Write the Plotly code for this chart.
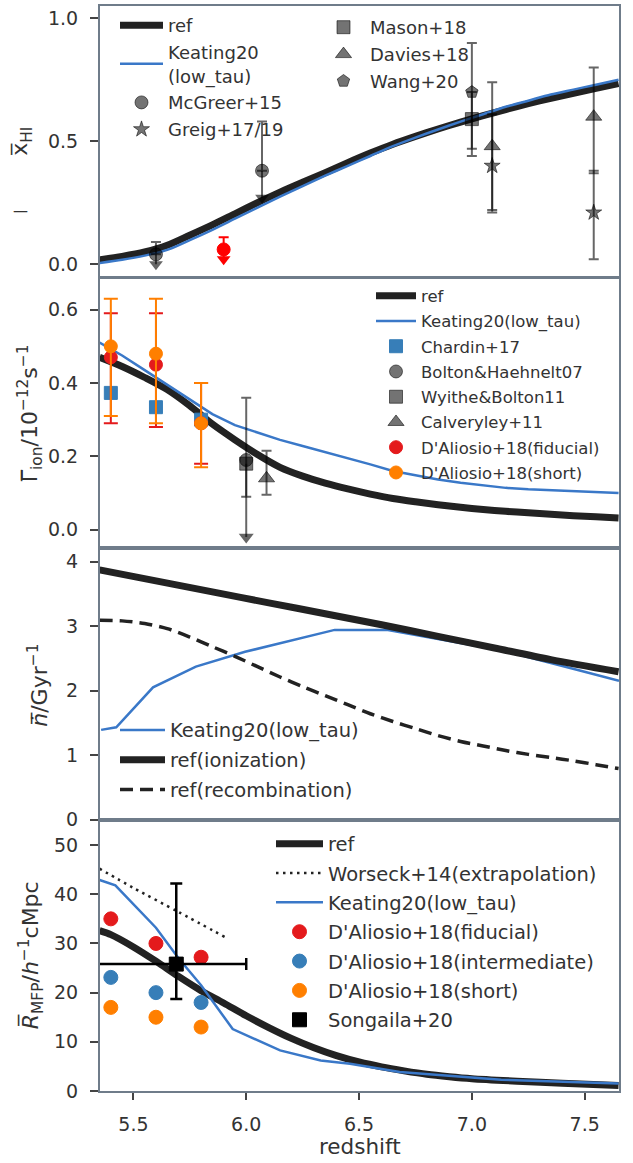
import plotly.graph_objects as go

# ---------------- data ----------------
# panel 1: neutral fraction
z_xhi = [5.35, 5.45, 5.55, 5.65, 5.75, 5.85, 5.95, 6.05, 6.15, 6.25, 6.35, 6.45,
         6.55, 6.65, 6.75, 6.85, 6.95, 7.05, 7.15, 7.25, 7.35, 7.45, 7.55, 7.65]
ref_xhi = [0.018, 0.032, 0.05, 0.077, 0.118, 0.16, 0.205, 0.25, 0.293, 0.333, 0.372, 0.413,
           0.452, 0.488, 0.52, 0.55, 0.578, 0.604, 0.629, 0.653, 0.675, 0.695, 0.715, 0.735]
keat_xhi = [0.005, 0.018, 0.035, 0.058, 0.098, 0.14, 0.185, 0.23, 0.275, 0.318, 0.36, 0.40,
            0.44, 0.48, 0.515, 0.548, 0.58, 0.61, 0.64, 0.665, 0.69, 0.71, 0.73, 0.75]

mcgreer_z = [5.6, 6.07]
mcgreer_v = [0.04, 0.38]
mcgreer_up = [0.05, 0.20]
mcgreer_lim = [0.0, 0.27]
red_z = [5.9]
red_v = [0.06]
red_up = [0.05]
red_lim = [0.02]
greig_z = [7.09, 7.54]
greig_v = [0.40, 0.21]
greig_up = [0.21, 0.17]
greig_dn = [0.19, 0.19]
mason_z = [7.0]
mason_v = [0.59]
mason_up = [0.11]
mason_dn = [0.15]
davies_z = [7.09, 7.54]
davies_v = [0.48, 0.60]
davies_up = [0.26, 0.20]
davies_dn = [0.26, 0.23]
wang_z = [7.0]
wang_v = [0.70]
wang_up = [0.20]
wang_dn = [0.23]

# panel 2: photoionisation rate
z_gam = z_xhi
ref_gam = [0.47, 0.445, 0.415, 0.382, 0.338, 0.288, 0.245, 0.205, 0.170, 0.146, 0.127, 0.111,
           0.097, 0.085, 0.076, 0.068, 0.061, 0.055, 0.05, 0.046, 0.042, 0.038, 0.035, 0.032]
keat_gam = [0.51, 0.475, 0.435, 0.395, 0.355, 0.315, 0.285, 0.265, 0.245, 0.228, 0.212, 0.195,
            0.178, 0.16, 0.148, 0.137, 0.128, 0.121, 0.114, 0.11, 0.107, 0.104, 0.102, 0.10]
chardin_z = [5.4, 5.6, 5.8]
chardin_v = [0.373, 0.334, 0.30]
bolton_z = [6.0]
bolton_v = [0.19]
bolton_up = [0.17]
bolton_dn = [0.10]
wyithe_z = [6.0]
wyithe_v = [0.18]
wyithe_lim = [-0.02]
calverley_z = [6.09]
calverley_v = [0.14]
calverley_up = [0.075]
calverley_dn = [0.045]
dal_z = [5.4, 5.6, 5.8]
dalfid_gam = [0.47, 0.45, 0.29]
dalfid_gam_up = [0.12, 0.14, 0.11]
dalfid_gam_dn = [0.18, 0.17, 0.11]
dalshort_gam = [0.50, 0.48, 0.29]
dalshort_gam_up = [0.13, 0.15, 0.11]
dalshort_gam_dn = [0.19, 0.19, 0.12]

# panel 3: ionisation / recombination rates
z_ion = [5.35, 5.6, 5.85, 6.1, 6.35, 6.6, 6.85, 7.1, 7.35, 7.65]
ref_ion = [3.87, 3.70, 3.53, 3.36, 3.19, 3.02, 2.84, 2.66, 2.48, 2.29]
z_rec = [5.35, 5.45, 5.55, 5.65, 5.75, 5.85, 5.95, 6.05, 6.15, 6.25, 6.35, 6.45,
         6.55, 6.65, 6.75, 6.85, 6.95, 7.05, 7.15, 7.25, 7.35, 7.45, 7.55, 7.65]
ref_rec = [3.09, 3.08, 3.04, 2.96, 2.83, 2.68, 2.53, 2.37, 2.21, 2.06, 1.92, 1.78,
           1.64, 1.52, 1.41, 1.30, 1.21, 1.14, 1.07, 1.01, 0.96, 0.91, 0.85, 0.79]
z_keat_ion = [5.357, 5.424, 5.587, 5.777, 5.995, 6.392, 6.628, 7.134, 7.478, 7.652]
keat_ion = [1.39, 1.43, 2.05, 2.37, 2.60, 2.94, 2.94, 2.62, 2.31, 2.15]

# panel 4: mean free path
z_mfp = [5.35, 5.4, 5.5, 5.6, 5.7, 5.8, 5.9, 6.0, 6.1, 6.2, 6.3, 6.4, 6.5, 6.6,
         6.7, 6.8, 6.9, 7.0, 7.2, 7.4, 7.65]
ref_mfp = [32.6, 31.8, 29.3, 26.4, 23.3, 20.4, 17.9, 15.3, 12.9, 10.7, 8.8, 7.2, 5.9, 4.9,
           4.1, 3.4, 2.9, 2.5, 2.0, 1.6, 1.1]
z_keat_mfp = [5.35, 5.42, 5.6, 5.7, 5.8, 5.94, 6.15, 6.33, 6.46, 6.68, 7.13, 7.65]
keat_mfp = [42.9, 41.8, 33.2, 27.0, 21.5, 12.6, 8.25, 6.2, 5.55, 3.85, 2.3, 1.5]
z_worseck = [5.35, 5.5, 5.7, 5.91]
worseck_mfp = [45.2, 41.3, 36.4, 31.2]
dalfid_mfp = [35.0, 30.0, 27.2]
dalint_mfp = [23.1, 20.0, 18.0]
dalshort_mfp = [17.0, 15.0, 13.0]
songaila_z = [5.69]
songaila_v = [25.8]
songaila_zdn = [0.40]
songaila_zup = [0.31]
songaila_up = [16.4]
songaila_dn = [7.1]

x_ticks = [5.5, 6.0, 6.5, 7.0, 7.5]

# ---------------- style ----------------
FONT = "DejaVu Sans"
TXT = "#333333"
SPINE = "#6f7c8a"
BLACK = "#222222"
KBLUE = "#3a78c8"
RED = "#e41a1c"
SBLUE = "#377eb8"
ORANGE = "#ff7f00"
GRAY = "rgba(0,0,0,0.55)"
GRAYE = "rgba(0,0,0,0.6)"

fig = go.Figure()


def axn(k):
    return ("x" if k == 1 else f"x{k}"), ("y" if k == 1 else f"y{k}")


def line(k, x, y, name, color, width, legend, dash=None, show=True, smooth=False):
    xa, ya = axn(k)
    ln = dict(color=color, width=width, dash=dash)
    if smooth:
        ln["shape"] = "spline"
        ln["smoothing"] = 0.8
    fig.add_trace(go.Scatter(x=x, y=y, mode="lines", name=name, xaxis=xa, yaxis=ya,
                             line=ln, legend=legend, showlegend=show, legendgroup=name))


def pts(k, x, y, name, symbol, color, size, legend=None, up=None, dn=None,
        ecolor=None, ewidth=5, ethick=2, show=True, lcolor=None, xup=None, xdn=None):
    xa, ya = axn(k)
    kw = {}
    if up is not None:
        kw["error_y"] = dict(type="data", symmetric=False, array=up, arrayminus=dn,
                             color=ecolor, thickness=ethick, width=ewidth)
    if xup is not None:
        kw["error_x"] = dict(type="data", symmetric=False, array=xup, arrayminus=xdn,
                             color=ecolor, thickness=ethick, width=ewidth)
    fig.add_trace(go.Scatter(x=x, y=y, mode="markers", name=name, xaxis=xa, yaxis=ya,
                             marker=dict(symbol=symbol, color=color, size=size,
                                         line=dict(width=1, color=lcolor or color)),
                             legend=legend if legend else "legend",
                             showlegend=show and legend is not None,
                             legendgroup=name if show else None, **kw))


def uplim(k, x, y, up, lim, color, ecolor, symbol, size, name=None, legend=None):
    # marker with upward error (cap on top) and a downward arrow (upper limit)
    xa, ya = axn(k)
    dn_len = [yy - ll for yy, ll in zip(y, lim)]
    fig.add_trace(go.Scatter(x=x, y=y, mode="markers", xaxis=xa, yaxis=ya, showlegend=False,
                             marker=dict(size=1, color="rgba(0,0,0,0)"),
                             error_y=dict(type="data", symmetric=False, array=[0] * len(x),
                                          arrayminus=dn_len, color=ecolor, thickness=2, width=0)))
    fig.add_trace(go.Scatter(x=x, y=lim, mode="markers", xaxis=xa, yaxis=ya, showlegend=False,
                             marker=dict(symbol="triangle-down", size=12, color=ecolor,
                                         line=dict(width=0))))
    pts(k, x, y, name, symbol, color, size, legend=legend, up=up, dn=[0] * len(x),
        ecolor=ecolor, show=legend is not None)


# ---- panel 1 ----
line(1, z_xhi, ref_xhi, "ref", BLACK, 7, "legend", smooth=True)
line(1, z_xhi, keat_xhi, "Keating20<br>(low_tau)", KBLUE, 2.5, "legend", smooth=True)
uplim(1, mcgreer_z, mcgreer_v, mcgreer_up, mcgreer_lim, GRAY, GRAYE, "circle", 13,
      name="McGreer+15", legend="legend")
uplim(1, red_z, red_v, red_up, red_lim, "#ff0000", "#ff0000", "circle", 13)
pts(1, greig_z, greig_v, "Greig+17/19", "star", GRAY, 12, legend="legend",
    up=greig_up, dn=greig_dn, ecolor=GRAYE)
pts(1, mason_z, mason_v, "Mason+18", "square", GRAY, 13, legend="legend2",
    up=mason_up, dn=mason_dn, ecolor=GRAYE)
pts(1, davies_z, davies_v, "Davies+18", "triangle-up", GRAY, 14, legend="legend2",
    up=davies_up, dn=davies_dn, ecolor=GRAYE)
pts(1, wang_z, wang_v, "Wang+20", "pentagon", GRAY, 13, legend="legend2",
    up=wang_up, dn=wang_dn, ecolor=GRAYE)

# ---- panel 2 ----
line(2, z_gam, ref_gam, "ref", BLACK, 7, "legend3", smooth=True)
line(2, z_gam, keat_gam, "Keating20(low_tau)", KBLUE, 2.5, "legend3")
pts(2, chardin_z, chardin_v, "Chardin+17", "square", SBLUE, 13, legend="legend3")
pts(2, bolton_z, bolton_v, "Bolton&Haehnelt07", "circle", GRAY, 13, legend="legend3",
    up=bolton_up, dn=bolton_dn, ecolor=GRAYE)
xa2, ya2 = axn(2)
fig.add_trace(go.Scatter(x=wyithe_z, y=wyithe_v, mode="markers", xaxis=xa2, yaxis=ya2,
                         showlegend=False, marker=dict(size=1, color="rgba(0,0,0,0)"),
                         error_y=dict(type="data", symmetric=False, array=[0],
                                      arrayminus=[wyithe_v[0] - wyithe_lim[0]],
                                      color=GRAYE, thickness=2, width=0)))
fig.add_trace(go.Scatter(x=wyithe_z, y=wyithe_lim, mode="markers", xaxis=xa2, yaxis=ya2,
                         showlegend=False,
                         marker=dict(symbol="triangle-down", size=13, color=GRAYE)))
pts(2, wyithe_z, wyithe_v, "Wyithe&Bolton11", "square", GRAY, 13, legend="legend3")
pts(2, calverley_z, calverley_v, "Calveryley+11", "triangle-up", GRAY, 14, legend="legend3",
    up=calverley_up, dn=calverley_dn, ecolor=GRAYE)
pts(2, dal_z, dalfid_gam, "D'Aliosio+18(fiducial)", "circle", RED, 13, legend="legend3",
    up=dalfid_gam_up, dn=dalfid_gam_dn, ecolor=RED, ewidth=7)
pts(2, dal_z, dalshort_gam, "D'Aliosio+18(short)", "circle", ORANGE, 13, legend="legend3",
    up=dalshort_gam_up, dn=dalshort_gam_dn, ecolor=ORANGE, ewidth=7)

# ---- panel 3 ----
line(3, z_keat_ion, keat_ion, "Keating20(low_tau)", KBLUE, 2.5, "legend4")
line(3, z_ion, ref_ion, "ref(ionization)", BLACK, 7, "legend4", smooth=True)
line(3, z_rec, ref_rec, "ref(recombination)", BLACK, 3.5, "legend4", dash="13px,7px",
     smooth=True)

# ---- panel 4 ----
line(4, z_mfp, ref_mfp, "ref", BLACK, 7, "legend5", smooth=True)
line(4, z_worseck, worseck_mfp, "Worseck+14(extrapolation)", BLACK, 2.5, "legend5",
     dash="2.5px,4.5px", smooth=True)
line(4, z_keat_mfp, keat_mfp, "Keating20(low_tau)", KBLUE, 2.5, "legend5")
pts(4, dal_z, dalfid_mfp, "D'Aliosio+18(fiducial)", "circle", RED, 14, legend="legend5")
pts(4, dal_z, dalint_mfp, "D'Aliosio+18(intermediate)", "circle", SBLUE, 14, legend="legend5")
pts(4, dal_z, dalshort_mfp, "D'Aliosio+18(short)", "circle", ORANGE, 14, legend="legend5")
pts(4, songaila_z, songaila_v, "Songaila+20", "square", "#000000", 14, legend="legend5",
    up=songaila_up, dn=songaila_dn, xup=songaila_zup, xdn=songaila_zdn,
    ecolor="#000000", ewidth=6, ethick=2.5)

# ---------------- layout ----------------
H = 1163
TOP, BOT = 4, 1091
PH = BOT - TOP


def py(px):
    return (BOT - px) / PH


def pxx(px):
    return (px - 100) / 519


domains = {1: [py(275), 1.0], 2: [py(547), py(277)], 3: [py(819), py(547)], 4: [0.0, py(820)]}
yranges = {1: [-0.05, 1.05], 2: [-0.05, 0.685], 3: [0, 4.21], 4: [0, 55]}
yticks = {1: [0, 0.5, 1.0], 2: [0, 0.2, 0.4, 0.6], 3: [0, 1, 2, 3, 4], 4: [0, 10, 20, 30, 40, 50]}
yfmt = {1: ".1f", 2: ".1f", 3: "d", 4: "d"}

layout = dict(width=633, height=H, margin=dict(l=100, r=14, t=TOP, b=H - BOT),
              paper_bgcolor="white", plot_bgcolor="white",
              font=dict(family=FONT, color=TXT, size=19))

for k in range(1, 5):
    xk = "xaxis" if k == 1 else f"xaxis{k}"
    yk = "yaxis" if k == 1 else f"yaxis{k}"
    xa, ya = axn(k)
    layout[xk] = dict(domain=[0, 1], range=[5.352, 7.652], anchor=ya,
                      showline=True, mirror=True, linecolor=SPINE, linewidth=2,
                      showgrid=False, zeroline=False,
                      tickvals=x_ticks, tickformat=".1f",
                      ticks="outside" if k == 4 else "", ticklen=7, tickwidth=1.5,
                      tickcolor="#444444", showticklabels=(k == 4),
                      ticklabelstandoff=8,
                      tickfont=dict(size=19, color=TXT, family=FONT))
    if k != 1:
        layout[xk]["matches"] = "x"
    layout[yk] = dict(domain=domains[k], range=yranges[k], anchor=xa,
                      showline=True, mirror=True, linecolor=SPINE, linewidth=2,
                      showgrid=False, zeroline=False, tickvals=yticks[k],
                      tickformat=yfmt[k], ticks="outside", ticklen=8, tickwidth=1.5,
                      tickcolor="#444444", ticklabelstandoff=8,
                      tickfont=dict(size=19, color=TXT, family=FONT))

leg_common = dict(bgcolor="rgba(0,0,0,0)", borderwidth=0, xanchor="left", yanchor="top",
                  traceorder="grouped", itemclick=False, itemdoubleclick=False)
layout["legend"] = dict(leg_common, x=pxx(115), y=py(5), itemwidth=43,
                        font=dict(size=18, family=FONT, color=TXT), tracegroupgap=0.5)
layout["legend2"] = dict(leg_common, x=pxx(317), y=py(7), itemwidth=43,
                         font=dict(size=18, family=FONT, color=TXT), tracegroupgap=0.5)
layout["legend3"] = dict(leg_common, x=pxx(371), y=py(277), itemwidth=40,
                         font=dict(size=16.5, family=FONT, color=TXT), tracegroupgap=0.8)
layout["legend4"] = dict(leg_common, x=pxx(115), y=py(710), itemwidth=45,
                         font=dict(size=19.5, family=FONT, color=TXT), tracegroupgap=1.5)
layout["legend5"] = dict(leg_common, x=pxx(271), y=py(824), itemwidth=47,
                         font=dict(size=19.5, family=FONT, color=TXT), tracegroupgap=1)

ann = []
ytitles = [
    ("x\u0305<sub>HI</sub>", 22, 140),
    ("\u0393\u0305<sub>ion</sub>/10<sup>\u221212</sup>s<sup>\u22121</sup>", 30, 412),
    ("<i>n\u0307\u0305</i>/Gyr<sup>\u22121</sup>", 38, 685),
    ("<i>R\u0305</i><sub>MFP</sub>/<i>h</i><sup>\u22121</sup>cMpc", 31, 955),
]
for text, xp, yp in ytitles:
    ann.append(dict(text=text, x=pxx(xp), y=py(yp), xref="paper", yref="paper",
                    textangle=-90, showarrow=False, xanchor="center", yanchor="middle",
                    font=dict(size=22, family=FONT, color=TXT)))
ann.append(dict(text="\u2014", x=pxx(20), y=py(209), xref="paper", yref="paper",
                showarrow=False, xanchor="center", yanchor="middle",
                font=dict(size=15, family=FONT, color=TXT)))
ann.append(dict(text="redshift", x=0.5, y=py(1161), xref="paper", yref="paper",
                showarrow=False, xanchor="center", yanchor="bottom",
                font=dict(size=21.5, family=FONT, color=TXT)))
layout["annotations"] = ann

fig.update_layout(**layout)
fig.write_html("out.html")
